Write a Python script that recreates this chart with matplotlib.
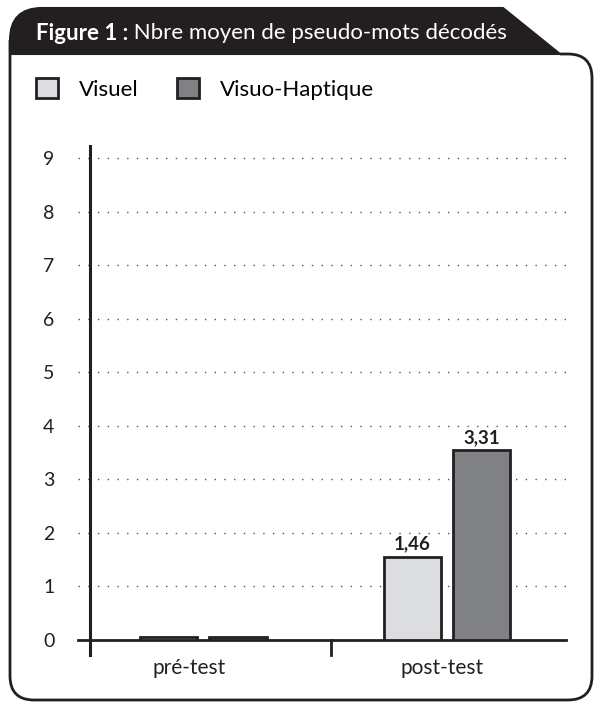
import matplotlib.pyplot as plt
from matplotlib.path import Path
from matplotlib.patches import PathPatch

plt.rcParams['font.family'] = ['Lato', 'DejaVu Sans']

# Data
categories = ['pré-test', 'post-test']
series = ['Visuel', 'Visuo-Haptique']
visuel = [0.06, 1.55]
visuo_haptique = [0.06, 3.54]
value_labels = [[None, '1,46'], [None, '3,31']]
yticks = [0, 1, 2, 3, 4, 5, 6, 7, 8, 9]
title_bold = 'Figure 1 :'
title_rest = ' Nbre moyen de pseudo-mots décodés'

W, H = 594, 704
ink = '#231f20'
colors = ['#dcdde0', '#808185']

fig = plt.figure(figsize=(W / 100, H / 100), dpi=100)


def fp(x, y):
    # pixel (top-based) -> figure fraction
    return (x / W, 1 - y / H)


# ---- frame with title tab ----
tab = [fp(10, 54), fp(10, 40), fp(10, 8), fp(42, 8), fp(503, 8), fp(560, 54), fp(10, 54)]
tab_codes = [Path.MOVETO, Path.LINETO, Path.CURVE3, Path.CURVE3, Path.LINETO, Path.LINETO, Path.CLOSEPOLY]
fig.patches.append(PathPatch(Path(tab, tab_codes), transform=fig.transFigure,
                             facecolor=ink, edgecolor=ink, lw=1.5))

frame = [fp(10, 40), fp(10, 676), fp(10, 700), fp(34, 700), fp(568, 700), fp(592, 700),
         fp(592, 676), fp(592, 78), fp(592, 54), fp(568, 54), fp(560, 54)]
frame_codes = [Path.MOVETO, Path.LINETO, Path.CURVE3, Path.CURVE3, Path.LINETO, Path.CURVE3,
               Path.CURVE3, Path.LINETO, Path.CURVE3, Path.CURVE3, Path.LINETO]
fig.patches.append(PathPatch(Path(frame, frame_codes), transform=fig.transFigure,
                             facecolor='none', edgecolor=ink, lw=2))

t = fig.text(36 / W, 1 - 33 / H, title_bold, color='white', fontsize=16, fontweight='bold',
             va='center', ha='left')
fig.canvas.draw()
bb = t.get_window_extent()
fig.text(bb.x1 / W, 1 - 33 / H, title_rest, color='white', fontsize=16, va='center', ha='left')

# ---- axes ----
x_left, x_right = 78, 566
y_zero, y_top = 640, 146
unit = 53.55
ymax = (y_zero - y_top) / unit
ax = fig.add_axes([x_left / W, 1 - y_zero / H, (x_right - x_left) / W, (y_zero - y_top) / H])
ax.set_xlim(-0.515, 1.49)
ax.set_ylim(0, ymax)
ax.set_facecolor('none')

for s in ['top', 'right', 'left']:
    ax.spines[s].set_visible(False)
ax.spines['bottom'].set_color(ink)
ax.spines['bottom'].set_linewidth(2)

yaxis_x = -0.467
cat_tick_x = 0.524
ax.plot([yaxis_x, yaxis_x], [-0.28, ymax], color=ink, lw=2.2, clip_on=False, zorder=4)
ax.plot([cat_tick_x, cat_tick_x], [-0.28, 0], color=ink, lw=2, clip_on=False, zorder=4)

for v in yticks[1:]:
    ax.axhline(v, color='#555555', lw=1, linestyle=(0, (1, 6)), zorder=1)

width = 0.235
offset = 0.142
xpos = range(len(categories))
for i, (vals, col) in enumerate(zip([visuel, visuo_haptique], colors)):
    xs = [x + (i * 2 - 1) * offset for x in xpos]
    bars = ax.bar(xs, vals, width=width, color=col, edgecolor=ink, linewidth=2,
                  label=series[i], zorder=3)
    for b, lab in zip(bars, value_labels[i]):
        if lab:
            ax.text(b.get_x() + b.get_width() / 2, b.get_height() + 0.08, lab,
                    ha='center', va='bottom', fontsize=13.5, fontweight='bold', color=ink)

ax.set_yticks(yticks)
ax.tick_params(axis='y', length=0, pad=17, labelsize=14, labelcolor=ink)
ax.set_xticks([-0.06, 0.98])
ax.set_xticklabels(categories)
ax.tick_params(axis='x', length=0, pad=13, labelsize=15, labelcolor=ink)

fig.legend(loc='center left', bbox_to_anchor=(27 / W, 1 - 89 / H), ncol=2, frameon=False,
           fontsize=16, handlelength=1.0, handleheight=1.0, handletextpad=0.95,
           columnspacing=1.72, borderaxespad=0)

fig.savefig('out.png', dpi=100)
